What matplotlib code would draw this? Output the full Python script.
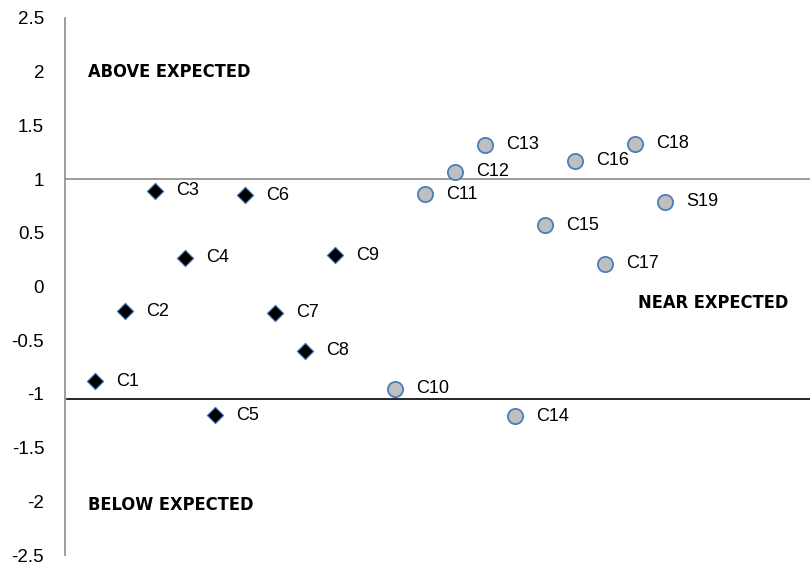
import matplotlib.pyplot as plt
from matplotlib import font_manager

# series 1: diamonds
diamond_names = ["C1", "C2", "C3", "C4", "C5", "C6", "C7", "C8", "C9"]
diamond_x = [1, 2, 3, 4, 5, 6, 7, 8, 9]
diamond_y = [-0.88, -0.23, 0.89, 0.27, -1.20, 0.85, -0.245, -0.60, 0.29]

# series 2: circles
circle_names = ["C10", "C11", "C12", "C13", "C14", "C15", "C16", "C17", "C18", "S19"]
circle_x = [11, 12, 13, 14, 15, 16, 17, 18, 19, 20]
circle_y = [-0.95, 0.86, 1.07, 1.32, -1.21, 0.57, 1.17, 0.21, 1.33, 0.79]

yticks = [2.5, 2, 1.5, 1, 0.5, 0, -0.5, -1, -1.5, -2, -2.5]
upper_line = 1.0
lower_line = -1.05

# look for a condensed bold face, else fall back
cond = None
for f in font_manager.fontManager.ttflist:
    if ("Condensed" in f.fname or "Narrow" in f.fname) and f.weight in (700, "bold"):
        cond = f.fname
        break

fig = plt.figure(figsize=(8.11, 5.66), dpi=100)
ax = fig.add_axes([65 / 811, 11 / 566, 745 / 811, 537 / 566])

ax.set_xlim(0, 745 / 30)
ax.set_ylim(-2.5, 2.5)

ax.axhline(upper_line, color="#8c8c8c", lw=1.2, zorder=1)
ax.axhline(lower_line, xmin=0.003, color="black", lw=1.2, zorder=1)

ax.scatter(diamond_x, diamond_y, marker="D", s=70, c="black",
           edgecolors="#4f81bd", linewidths=0.8, zorder=3)
ax.scatter(circle_x, circle_y, marker="o", s=120, c="#bfbfbf",
           edgecolors="#4a7ebb", linewidths=1.3, zorder=3)

for n, x, y in zip(diamond_names + circle_names, diamond_x + circle_x,
                   diamond_y + circle_y):
    ax.annotate(n, (x, y), xytext=(15, 0), textcoords="offset points",
                va="center", ha="left", fontsize=13,
                family=["Liberation Sans", "DejaVu Sans"])

if cond:
    bold = dict(fontproperties=font_manager.FontProperties(fname=cond, size=13.1))
else:
    bold = dict(fontsize=12.7, fontweight="heavy",
                family=["Liberation Sans", "DejaVu Sans"])

ax.text(0.75, 2.0, "ABOVE EXPECTED", va="center", ha="left", **bold)
ax.text(24.1, -0.15, "NEAR EXPECTED", va="center", ha="right", **bold)
ax.text(0.75, -2.03, "BELOW EXPECTED", va="center", ha="left", **bold)

ax.set_yticks(yticks)
ax.set_yticklabels([f"{t:g}" for t in yticks], fontsize=13.5,
                   family=["Liberation Sans", "DejaVu Sans"])
ax.tick_params(axis="y", length=0, pad=15)
ax.set_xticks([])
for s in ["top", "right", "bottom"]:
    ax.spines[s].set_visible(False)
ax.spines["left"].set_color("#8c8c8c")
ax.spines["left"].set_linewidth(1.2)

plt.savefig("out.png", dpi=100)
